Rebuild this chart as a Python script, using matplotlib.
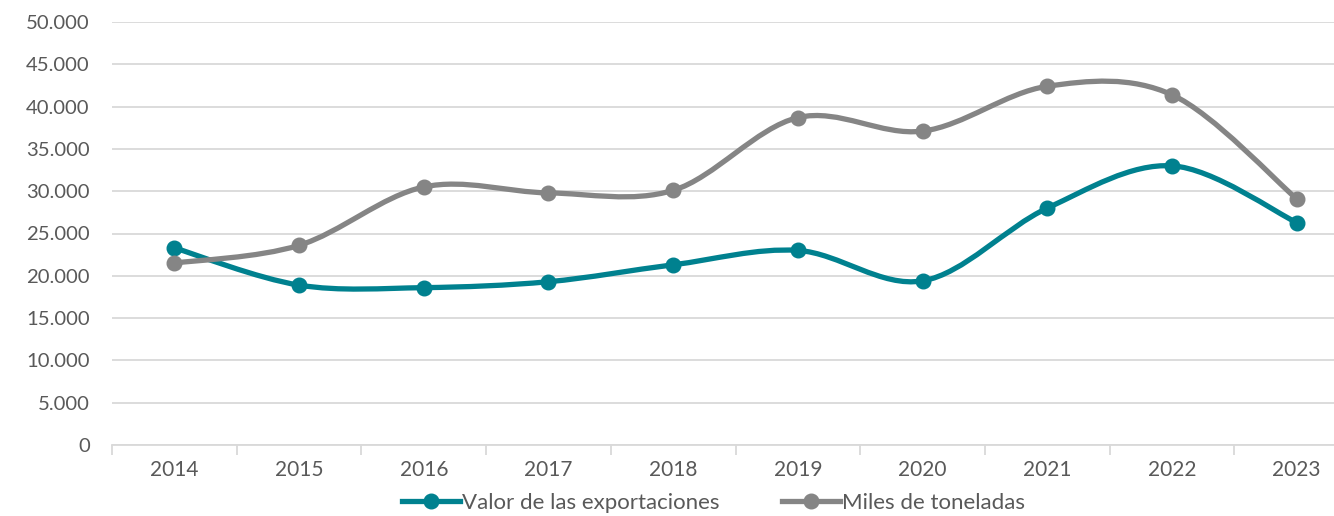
import matplotlib
matplotlib.use("Agg")
import matplotlib.pyplot as plt
from matplotlib.path import Path
from matplotlib.patches import PathPatch
from matplotlib.lines import Line2D
from matplotlib.ticker import FuncFormatter, MultipleLocator
import numpy as np

years = ["2014", "2015", "2016", "2017", "2018", "2019", "2020", "2021", "2022", "2023"]
valor = [23300, 18900, 18600, 19300, 21300, 23000, 19400, 28000, 33000, 26300]
toneladas = [21500, 23600, 30500, 29800, 30100, 38700, 37100, 42400, 41400, 29100]

TEAL = "#00818F"
GRAY = "#858585"

plt.rcParams['font.family'] = ['Lato', 'DejaVu Sans']


def smooth_path(x, y):
    # Excel-like smoothed line: Catmull-Rom as cubic Bezier
    pts = np.column_stack([x, y]).astype(float)
    ext = np.vstack([pts[0], pts, pts[-1]])
    verts = [pts[0]]
    codes = [Path.MOVETO]
    for i in range(1, len(ext) - 2):
        p0, p1, p2, p3 = ext[i - 1], ext[i], ext[i + 1], ext[i + 2]
        c1 = p1 + (p2 - p0) / 6.0
        c2 = p2 - (p3 - p1) / 6.0
        verts += [c1, c2, p2]
        codes += [Path.CURVE4] * 3
    return Path(verts, codes)


fig = plt.figure(figsize=(13.34, 5.16), dpi=100)
ax = fig.add_axes([112 / 1334, 1 - 445 / 516, 1247 / 1334, 423 / 516])

x = np.arange(len(years))
for vals, col, lab in [(valor, TEAL, "Valor de las exportaciones"),
                       (toneladas, GRAY, "Miles de toneladas")]:
    ax.add_patch(PathPatch(smooth_path(x, vals), facecolor="none", edgecolor=col,
                           lw=3.8, capstyle="round", joinstyle="round", zorder=3))
    ax.plot(x, vals, "o", color=col, ms=10.5, zorder=4)

ax.set_xlim(-0.5, len(years) - 0.5)
ax.set_ylim(0, 50000)
ax.yaxis.set_major_locator(MultipleLocator(5000))
ax.yaxis.set_major_formatter(FuncFormatter(lambda v, p: f"{int(v):,}".replace(",", ".")))
ax.grid(axis="y", color="#D9D9D9", lw=1.3)
ax.set_axisbelow(True)

ax.set_xticks(x)
ax.set_xticklabels(years)
ax.set_xticks(np.arange(-0.5, len(years)), minor=True)
ax.tick_params(axis="x", which="major", length=0, pad=11, labelsize=15, labelcolor="#595959")
ax.tick_params(axis="x", which="minor", length=7, width=1.3, color="#D9D9D9")
ax.tick_params(axis="y", length=0, pad=16, labelsize=14.6, labelcolor="#595959")

for s in ["top", "right", "left"]:
    ax.spines[s].set_visible(False)
ax.spines["bottom"].set_color("#D9D9D9")
ax.spines["bottom"].set_linewidth(1.3)

handles = [Line2D([], [], color=TEAL, lw=3.8, marker="o", ms=10.5),
           Line2D([], [], color=GRAY, lw=3.8, marker="o", ms=10.5)]
fig.legend(handles, ["Valor de las exportaciones", "Miles de toneladas"],
           loc="center", bbox_to_anchor=(0.535, 1 - 503 / 516), ncol=2, frameon=False,
           fontsize=16, labelcolor="#595959", handlelength=2.6, handletextpad=0.1,
           columnspacing=2.8)

fig.savefig("out.png", dpi=100)
